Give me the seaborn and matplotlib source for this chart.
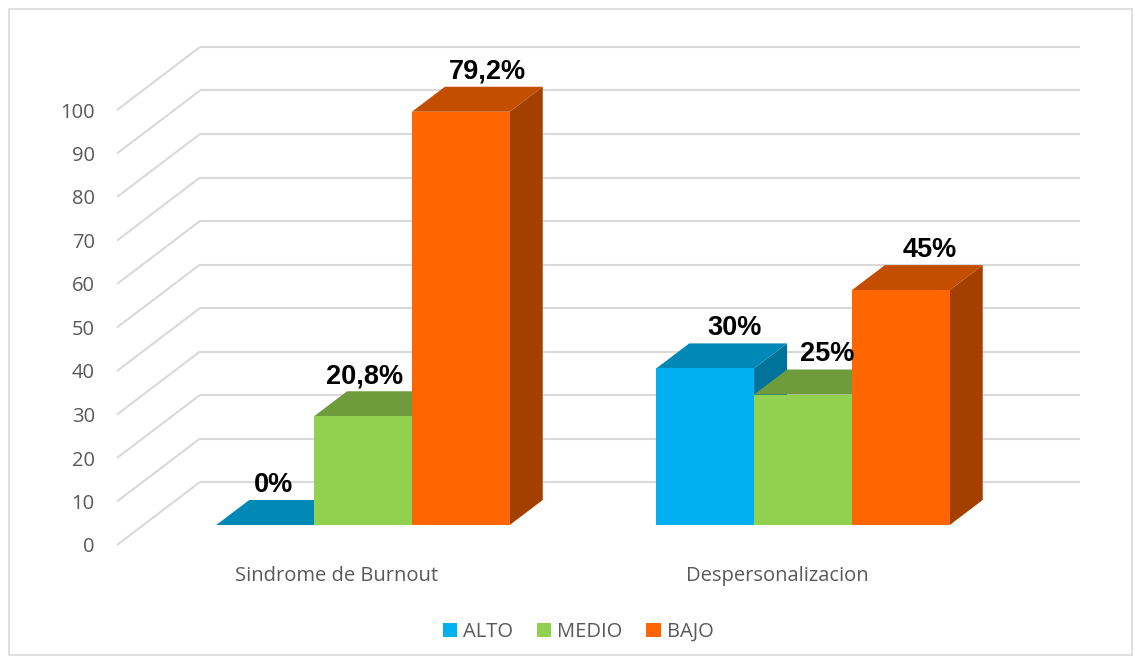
import matplotlib
matplotlib.use('Agg')
import matplotlib.pyplot as plt
import numpy as np
import pandas as pd
import seaborn as sns
from matplotlib.patches import Polygon, Patch, Rectangle

# ---- data ----
categories = ['Sindrome de Burnout', 'Despersonalizacion']
levels = ['ALTO', 'MEDIO', 'BAJO']
alto = [0, 36]
medio = [25, 30]
bajo = [95, 54]
labels_alto = ['0%', '30%']
labels_medio = ['20,8%', '25%']
labels_bajo = ['79,2%', '45%']
yticks = list(range(0, 101, 10))

# ---- style ----
front_colors = ['#00B0F0', '#92D050', '#FF6600']
top_colors = ['#0088B7', '#6F9B3D', '#C44E00']
side_colors = ['#00739A', '#5C8233', '#A34000']
# horizontal nudge of each data label (px), per level then category
label_nudge_px = [[8, 29], [2, 24], [27, 29]]

W, H = 1141, 664
sns.set_theme(style='white')
plt.rcParams['font.family'] = ['Open Sans', 'DejaVu Sans']

fig = plt.figure(figsize=(W / 100, H / 100), dpi=100)
fig.patch.set_facecolor('white')
ax_px = (117, 545, 880, 435)  # left, bottom(px from top), width, height
ax = fig.add_axes([ax_px[0] / W, 1 - ax_px[1] / H, ax_px[2] / W, ax_px[3] / H])

df = pd.DataFrame({
    'cat': categories * 3,
    'nivel': [l for l in levels for _ in categories],
    'val': alto + medio + bajo,
})
sns.barplot(data=df, x='cat', y='val', hue='nivel', order=categories,
            hue_order=levels, palette=front_colors, width=0.667,
            saturation=1, legend=False, ax=ax, linewidth=0, edgecolor='none')

ax.set_xlim(-0.5, 1.5)
ax.set_ylim(0, 100)
ux = ax_px[2] / 2.0     # px per x unit
uy = ax_px[3] / 100.0   # px per y unit

# offsets in px converted to data units
fx, fy = 26 / ux, 20 / uy      # bar front plane offset
dx, dy = 33 / ux, 25 / uy      # bar depth
wx, wy = 83 / ux, 63 / uy      # back wall offset

# gridlines (floor-to-wall diagonals + back wall)
grid_c = '#D9D9D9'
for v in yticks:
    ax.plot([-0.5, -0.5 + wx], [v, v + wy], color=grid_c, lw=1.5,
            zorder=0.5, clip_on=False, solid_capstyle='butt')
    ax.plot([-0.5 + wx, 1.5 + wx], [v + wy, v + wy], color=grid_c, lw=1.5,
            zorder=0.5, clip_on=False, solid_capstyle='butt')

bar_labels = [labels_alto, labels_medio, labels_bajo]
patches = sorted([p for p in ax.patches if isinstance(p, Rectangle)],
                 key=lambda p: p.get_x())
for k, p in enumerate(patches):
    li = k % 3
    ci = k // 3
    x0 = p.get_x() + fx
    w = p.get_width()
    h = p.get_height()
    y0 = fy
    base_z = 2 + 3 * k
    p.set_xy((x0, y0))
    p.set_zorder(base_z + 2)
    p.set_clip_on(False)
    side = Polygon([(x0 + w, y0), (x0 + w + dx, y0 + dy),
                    (x0 + w + dx, y0 + h + dy), (x0 + w, y0 + h)],
                   closed=True, facecolor=side_colors[li], edgecolor='none',
                   zorder=base_z, clip_on=False)
    top = Polygon([(x0, y0 + h), (x0 + w, y0 + h),
                   (x0 + w + dx, y0 + h + dy), (x0 + dx, y0 + h + dy)],
                  closed=True, facecolor=top_colors[li], edgecolor='none',
                  zorder=base_z + 1, clip_on=False)
    ax.add_patch(side)
    ax.add_patch(top)
    ax.text(x0 + w / 2 + label_nudge_px[li][ci] / ux, y0 + h + dy + 8 / uy,
            bar_labels[li][ci],
            ha='center', va='baseline', fontsize=19.5, fontweight='bold',
            family=['Liberation Sans', 'DejaVu Sans'], color='black',
            zorder=100, clip_on=False)

for s in ax.spines.values():
    s.set_visible(False)
ax.set_facecolor('none')
ax.set_xlabel('')
ax.set_ylabel('')
ax.set_yticks(yticks)
ax.set_yticklabels([str(v) for v in yticks])
ax.set_xticks(range(len(categories)))
ax.set_xticklabels(categories)
ax.tick_params(axis='y', length=0, pad=16, labelsize=14.5, labelcolor='#595959')
ax.tick_params(axis='x', length=0, pad=15, labelsize=14.5, labelcolor='#595959')
ax.grid(False)

handles = [Patch(facecolor=c, edgecolor='none', label=l)
           for c, l in zip(front_colors, levels)]
fig.legend(handles=handles, loc='center', bbox_to_anchor=(578 / W, 1 - 632 / H),
           ncol=3, frameon=False, fontsize=14.5, handlelength=0.7,
           handleheight=0.7, handletextpad=0.3, columnspacing=1.2,
           labelcolor='#595959')

fig.patches.append(Rectangle((9 / W, 9 / H), (1132 - 9) / W, (655 - 9) / H,
                             transform=fig.transFigure, fill=False,
                             edgecolor='#D9D9D9', lw=1.2))

fig.savefig('out.png', dpi=100)
